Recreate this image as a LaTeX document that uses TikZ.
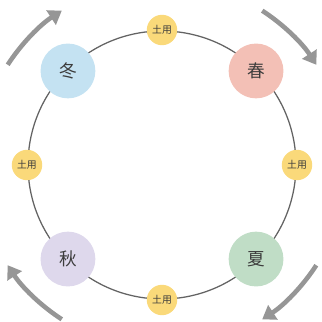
\documentclass[tikz,border=0pt]{standalone}
\usepackage{fontspec}
\newfontfamily\cjk{Noto Sans CJK JP}
\usetikzlibrary{arrows.meta}
\definecolor{fuyu}{RGB}{196,226,242}
\definecolor{haru}{RGB}{243,192,182}
\definecolor{natsu}{RGB}{192,221,198}
\definecolor{aki}{RGB}{222,216,236}
\definecolor{doyo}{RGB}{250,217,122}
\definecolor{moji}{RGB}{60,60,60}
\definecolor{yajirushi}{RGB}{150,150,150}
\tikzset{
  kisetsu/.style={circle,minimum size=1.37cm,inner sep=0pt,text=moji,font=\cjk\fontsize{12.5}{12.5}\selectfont},
  doyoubi/.style={circle,fill=doyo,minimum size=0.76cm,inner sep=0pt,text=moji,font=\cjk\fontsize{7}{7}\selectfont},
  meguri/.style={yajirushi,line width=0.115cm,-{Triangle[width=0.42cm,length=0.32cm]}},
}
\begin{document}
\begin{tikzpicture}[x=0.025cm,y=0.025cm]
	\useasboundingbox (-162,-157) rectangle (160,165);
	\coordinate (O) at (0,0);

	\draw[moji!80,line width=0.9pt] (O) circle[radius=134];

	\node[kisetsu,fill=fuyu] (fuyu) at (135:133) {冬};
	\node[kisetsu,fill=haru] (haru) at (45:133) {春};
	\node[kisetsu,fill=natsu] (natsu) at (-45:133) {夏};
	\node[kisetsu,fill=aki] (aki) at (-135:133) {秋};

	\node[doyoubi] (doyo1) at (90:135) {土用};
	\node[doyoubi] (doyo2) at (0:135) {土用};
	\node[doyoubi] (doyo3) at (-90:135) {土用};
	\node[doyoubi] (doyo4) at (180:135) {土用};

	% arrows going round
	\draw[meguri] (147:184) arc[start angle=147,end angle=123,radius=184];
	\draw[meguri] (57:184) arc[start angle=57,end angle=33,radius=184];
	\draw[meguri] (-33:184) arc[start angle=-33,end angle=-57,radius=184];
	\draw[meguri] (-123:184) arc[start angle=-123,end angle=-147,radius=184];
\end{tikzpicture}
\end{document}
